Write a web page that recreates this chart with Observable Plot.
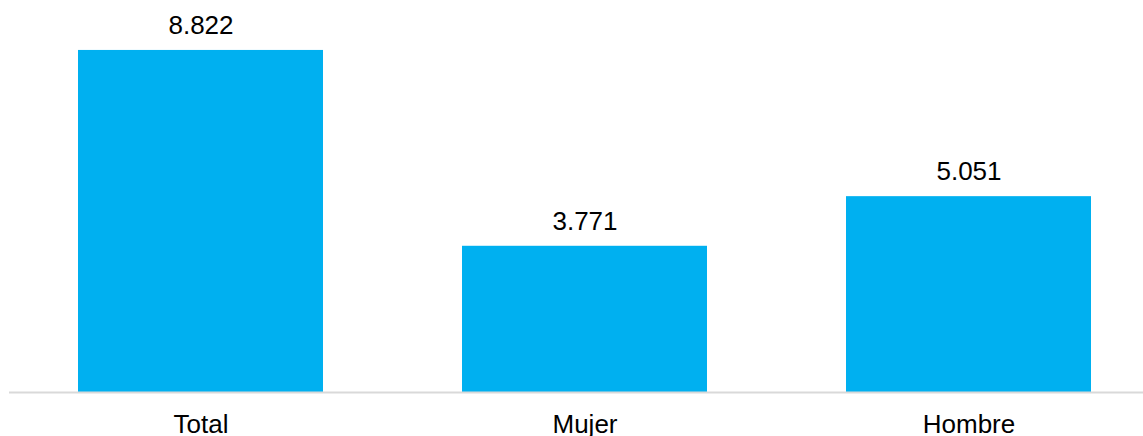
<!DOCTYPE html>
<html>
<head>
<meta charset="utf-8">
<script src="https://cdn.jsdelivr.net/npm/d3@7"></script>
<script src="https://cdn.jsdelivr.net/npm/@observablehq/plot@0.6"></script>
<style>
  html, body { margin: 0; padding: 0; background: #fff; }
  #chart svg { display: block; }
</style>
</head>
<body>
<div id="chart"></div>
<script>
const categories = ["Total", "Mujer", "Hombre"];
const values = [8.822, 3.771, 5.051];
const labels = ["8.822", "3.771", "5.051"];

const data = categories.map((c, i) => ({ category: c, value: values[i], label: labels[i] }));

const chart = Plot.plot({
  width: 1143,
  height: 436,
  marginLeft: 26,
  marginRight: 0,
  marginTop: 0,
  marginBottom: 44,
  style: { fontFamily: "'Liberation Sans', Arial, sans-serif", fontSize: "26px", color: "#000", background: "#fff" },
  x: { domain: categories, paddingInner: 0.362, paddingOuter: 0.1354, label: null, tickSize: 0, tickPadding: 22 },
  y: { domain: [0, 10.11], axis: null },
  marks: [
    Plot.barY(data, { x: "category", y: "value", fill: "#00B0F0" }),
    Plot.ruleY([0], { stroke: "#d9d9d9", strokeWidth: 2, insetLeft: -17 }),
    Plot.text(data, { x: "category", y: "value", text: "label", lineAnchor: "bottom", dy: -16.5, fill: "#000", fontSize: 26 })
  ]
});
document.getElementById("chart").appendChild(chart);
</script>
</body>
</html>
